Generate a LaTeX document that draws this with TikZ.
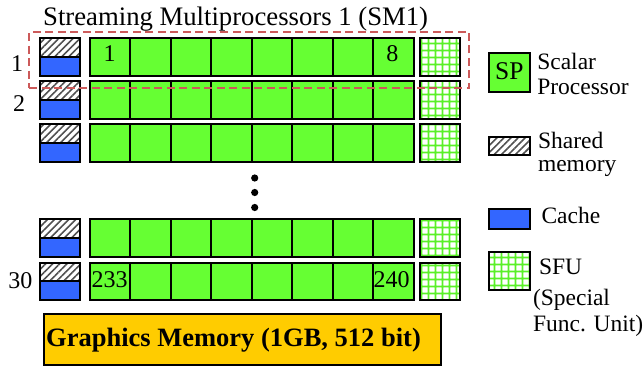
\documentclass[tikz,border=0pt]{standalone}
\usepackage{fontspec}
\setmainfont{Liberation Serif}
\usetikzlibrary{patterns.meta}
\definecolor{spgreen}{RGB}{102,255,51}
\definecolor{cacheblue}{RGB}{51,102,255}
\definecolor{memorange}{RGB}{255,204,0}
\definecolor{smred}{RGB}{204,90,90}
\definecolor{sfugreen}{RGB}{90,240,40}
\definecolor{hatchgray}{RGB}{80,80,80}
\begin{document}
\begin{tikzpicture}[x=1pt,y=-1pt,
  box/.style={draw=black, line width=2pt, rectangle, inner sep=0pt, outer sep=0pt, anchor=north west},
  spcell/.style={box, fill=spgreen, minimum width=40.5pt, minimum height=37.5pt},
  shbox/.style={box, pattern={Lines[angle=45,distance=5pt,line width=1.6pt]}, pattern color=hatchgray, minimum width=40.5pt, minimum height=18.5pt},
  cachebox/.style={box, fill=cacheblue, minimum width=40.5pt, minimum height=19pt},
  sfubox/.style={box, pattern={Hatch[angle=0,distance=7.4pt,line width=2pt]}, pattern color=sfugreen, minimum width=40.5pt, minimum height=37.5pt},
  txt/.style={inner sep=0pt, outer sep=0pt, font=\fontsize{24}{24}\selectfont},
  lgd/.style={inner sep=0pt, outer sep=0pt, anchor=base west, font=\fontsize{23.5}{23.5}\selectfont},
  dotnode/.style={circle, fill=black, inner sep=0pt, minimum size=7.2pt}
]
\useasboundingbox (0,0) rectangle (644,366);

% title
\node[inner sep=0pt, anchor=base west, font=\fontsize{26.7}{26.7}\selectfont] (title) at (43,26) {Streaming Multiprocessors 1 (SM1)};

% rows
\foreach \r/\t in {1/38.5,2/81.5,3/124.5,4/219,5/262.5} {
  \node[shbox] (sh\r) at (39.5,\t) {};
  \node[cachebox] (ca\r) at (39.5,\t+18.5) {};
  \foreach \i in {0,...,7} {
    \node[spcell] (sp\r-\i) at (89.5+40.5*\i,\t) {};
  }
  \node[sfubox] (sfu\r) at (419.5,\t) {};
}

% dashed SM1 frame
\node[draw=smred, line width=2pt, dash pattern=on 8pt off 4.5pt, rectangle, inner sep=0pt, anchor=north west, minimum width=440pt, minimum height=56.3pt] (sm1) at (28.3,31) {};

% row labels
\node[txt, anchor=base] (r1) at (17,72) {1};
\node[txt, anchor=base] (r2) at (19,111.7) {2};
\node[txt, anchor=base] (r30) at (20.5,288.3) {30};

% cell labels
\node[txt, anchor=base] (n1) at (109.5,62) {1};
\node[txt, anchor=base] (n8) at (392.3,62) {8};
\node[txt, anchor=base west] (n233) at (91.5,287.3) {233};
\node[txt, anchor=base east] (n240) at (409.5,287.3) {240};

% vertical dots
\node[dotnode] (d1) at (254.7,178) {};
\node[dotnode] (d2) at (254.7,192.5) {};
\node[dotnode] (d3) at (254.7,207.5) {};

% graphics memory
\node[box, fill=memorange, minimum width=397pt, minimum height=51pt] (gm) at (43.5,314) {};
\node[inner sep=0pt, anchor=base west, font=\fontsize{26.5}{26.5}\selectfont\bfseries] (gmt) at (46,346.7) {Graphics Memory (1GB, 512 bit)};

% legend
\node[box, fill=spgreen, minimum width=41pt, minimum height=38.5pt] (lsp) at (489,53.5) {};
\node[inner sep=0pt, anchor=base, font=\fontsize{25.5}{25.5}\selectfont] (lspt) at (509.3,80) {SP};
\node[lgd] (ls1) at (537.3,69.3) {Scalar};
\node[lgd] (ls2) at (537.3,95) {Processor};

\node[shbox, minimum width=40.5pt, minimum height=18pt] (lsh) at (489,137) {};
\node[lgd] (lsh1) at (538,148.3) {Shared};
\node[lgd] (lsh2) at (538,171.5) {memory};

\node[cachebox, minimum width=40.5pt, minimum height=20pt] (lca) at (489,208.5) {};
\node[lgd] (lca1) at (541.5,223.5) {Cache};

\node[sfubox, minimum width=40.5pt, minimum height=38pt] (lsf) at (489,252.3) {};
\node[lgd] (lsf1) at (539,274.3) {SFU};
\node[lgd] (lsf2) at (533,305) {(Special};
\node[lgd] (lsf3) at (533,331.7) {Func. Unit)};
\end{tikzpicture}
\end{document}
